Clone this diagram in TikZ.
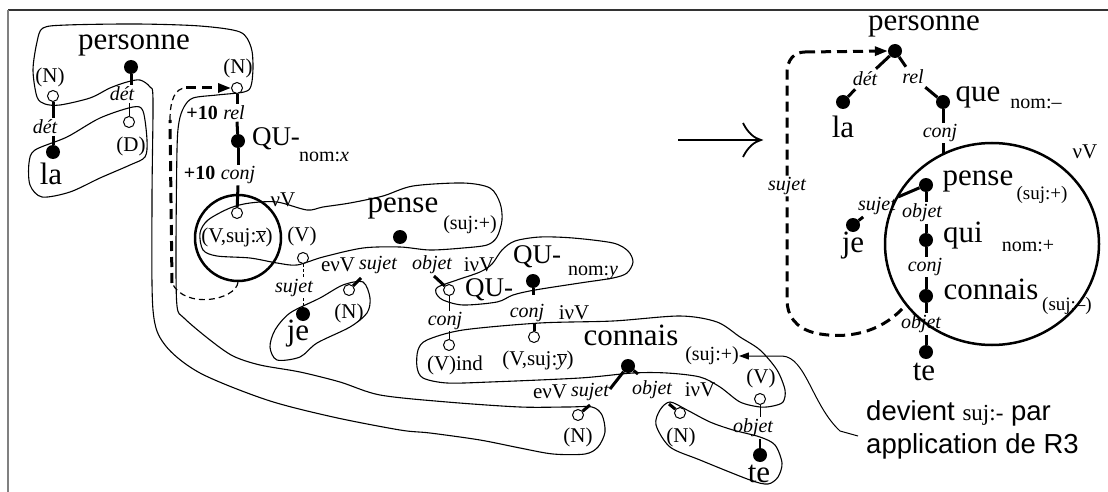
\documentclass[tikz,border=0pt]{standalone}
\usepackage{fontspec}
\setmainfont{Liberation Serif}
\newfontfamily\arialf{Liberation Sans}
\usetikzlibrary{arrows.meta,shapes.geometric,calc}
\tikzset{
 fdot/.style={circle,fill=black,inner sep=0pt,minimum size=14pt},
 odot/.style={circle,draw,fill=white,line width=1pt,inner sep=0pt,minimum size=11pt},
 big/.style={font=\fontsize{31}{34}\selectfont,inner sep=0pt},
 qu/.style={font=\fontsize{27}{30}\selectfont,inner sep=0pt},
 med/.style={font=\fontsize{21}{24}\selectfont,inner sep=1pt},
 lab/.style={font=\fontsize{20}{22}\selectfont\itshape,inner sep=1.5pt},
 bnum/.style={font=\fontsize{20}{22}\selectfont\bfseries,inner sep=1.5pt},
 sub/.style={font=\fontsize{20}{22}\selectfont,inner sep=0pt},
 tk/.style={line width=3pt},
 tn/.style={line width=1pt},
 blob/.style={line width=1.1pt},
 dsh/.style={line width=3pt,dash pattern=on 10pt off 6pt},
 dshthin/.style={line width=1.2pt,dash pattern=on 6pt off 4pt},
 tri/.style={-{Triangle[length=13pt,width=9pt]}},
}
\begin{document}
\begin{tikzpicture}[x=1pt,y=-1pt]
\useasboundingbox (0,0) rectangle (1108,492);
\draw[line width=1.3pt, black!80] (1108,10) -- (8,10);
\draw[line width=1.6pt, black!50] (8,10) -- (8,492);

% ---------- contours (left)
\draw[blob] plot[smooth cycle, tension=0.5] coordinates {(43,28) (67,25) (137,24) (200,26) (240,32) (251,47) (253,67) (251,86) (244,92) (217,95) (193,98) (184,107) (179,122) (177,150) (176,250) (177,306) (184,318) (210,340) (233,356) (260,365) (300,372) (340,382) (380,395) (447,402) (520,407) (567,407) (592,407) (602,415) (605,432) (598,447) (585,454) (553,454) (520,448) (480,440) (430,433) (400,430) (333,417) (267,400) (200,373) (165,345) (153,310) (152,200) (153,100) (150,87) (140,80) (127,82) (110,88) (90,98) (60,105) (45,104) (37,97) (33,70) (37,42)};
\draw[blob] plot[smooth cycle, tension=0.5] coordinates {(35,150) (67,137) (100,118) (133,107) (143,111) (147,140) (145,157) (130,165) (100,178) (70,192) (42,197) (30,185) (29,163)};
\draw[blob] plot[smooth cycle, tension=0.5] coordinates {(208,220) (230,208) (250,203) (277,202) (307,210) (323,207) (350,203) (383,196) (413,186) (463,183) (490,188) (500,203) (502,220) (497,237) (487,245) (463,248) (430,250) (400,247) (363,248) (323,257) (297,265) (277,263) (250,258) (217,256) (203,250) (200,233)};
\draw[blob] plot[smooth cycle, tension=0.5] coordinates {(275,330) (290,313) (320,298) (343,285) (363,282) (370,298) (367,313) (350,327) (317,343) (300,357) (277,360) (270,347)};
\draw[blob] plot[smooth cycle, tension=0.5] coordinates {(438,287) (457,280) (480,272) (492,264) (502,250) (515,241) (540,237) (573,238) (613,243) (628,251) (633,262) (627,273) (613,278) (580,283) (535,290) (513,295) (497,302) (463,305) (443,300) (436,293)};
\draw[blob] plot[smooth cycle, tension=0.5] coordinates {(427,340) (463,330) (540,323) (613,321) (680,316) (717,322) (740,337) (760,350) (777,370) (785,390) (783,402) (773,406) (760,407) (740,402) (720,387) (700,377) (667,373) (633,373) (580,378) (490,382) (447,383) (423,378) (417,367) (418,350)};
\draw[blob] plot[smooth cycle, tension=0.5] coordinates {(656,425) (660,410) (670,402) (687,410) (710,422) (733,430) (760,437) (775,445) (782,463) (778,477) (768,484) (750,480) (700,460) (670,447)};

% ---------- big circle left
\node[circle,draw,line width=2.5pt,minimum size=86pt,inner sep=0pt] (bigC) at (238,238) {};

% ---------- left nodes
\node[fdot] (dPers) at (131,67) {};
\node[odot] (oNL) at (53,96) {};
\node[fdot] (dLa) at (53,152) {};
\node[odot] (oD) at (129,122) {};
\node[odot] (oNR) at (237,88) {};
\node[fdot] (dQU) at (238,141) {};
\node[odot] (oVx) at (237,213) {};
\node[odot] (oV) at (303,258) {};
\node[fdot] (dJe) at (303,314) {};
\node[odot] (oN1) at (349,290) {};
\node[fdot] (dPense) at (400,237) {};
\node[odot] (oQU) at (449,290) {};
\node[fdot] (dQUb) at (533,281) {};
\node[odot] (oVind) at (449,345) {};
\node[odot] (oVy) at (534,337) {};
\node[fdot] (dConn) at (628,366) {};
\node[odot] (oN2) at (578,415) {};
\node[odot] (oN3) at (680,413) {};
\node[odot] (oV2) at (760,399) {};
\node[fdot] (dTe) at (760,455) {};

\node[big] (tPers) at (134,45) {personne};
\node[med] (tNL) at (50,77) {(N)};
\node[lab] (det1) at (45,127) {dét};
\node[big] (tLa) at (51,174) {la};
\node[lab] (det2) at (122,94) {dét};
\node[med] (tD) at (131,146) {(D)};
\node[med] (tNR) at (238,68) {(N)};
\node[lab] (rel1) at (234,113) {rel};
\node[bnum,anchor=base east] (p10a) at ($(rel1.base west)+(-2,0)$) {+10};
\node[qu] (tQU) at (276,139) {QU-};
\node[sub] (nomx) at (324,157) {nom:\textit{x}};
\node[lab] (conj1) at (238,175) {conj};
\node[bnum,anchor=base east] (p10b) at ($(conj1.base west)+(-2,0)$) {+10};
\node[med] (vsx) at (237,237) {(V,suj:$\overline{\mbox{\itshape x}}$)};
\node[med] (nuV1) at (283,200) {νV};
\node[med] (tV1) at (302,236) {(V)};
\node[lab] (suj1) at (294,288) {sujet};
\node[big] (tJe) at (298,334) {je};
\node[med] (evV1) at (338,265) {eνV};
\node[lab] (suj2) at (378,265) {sujet};
\node[med] (tN1) at (349,313) {(N)};
\node[big] (tPense) at (403,208) {pense};
\node[sub] (sujp1) at (470,225) {(suj:+)};
\node[lab] (obj1) at (432,265) {objet};
\node[med] (ivV1) at (479,265) {iνV};
\node[qu] (tQUs) at (489,290) {QU-};
\node[qu] (tQUb) at (537,257) {QU-};
\node[sub] (nomy) at (593,273) {nom:\textit{y}};
\node[lab] (conj2) at (445,321) {conj};
\node[med] (tVind) at (455,365) {(V)ind};
\node[lab] (conj3) at (527,313) {conj};
\node[med] (ivV2) at (574,313) {iνV};
\node[med] (vsy) at (538,360) {(V,suj:$\overline{\mbox{\itshape y}}$)};
\node[big] (tConn) at (631,335) {connais};
\node[med] (evV2) at (550,392) {eνV};
\node[lab] (suj3) at (590,392) {sujet};
\node[lab] (obj2) at (652,390) {objet};
\node[med] (ivV3) at (700,390) {iνV};
\node[med] (tN2) at (578,437) {(N)};
\node[med] (tN3) at (681,437) {(N)};
\node[sub] (sujp2) at (712,356) {(suj:+)};
\node[med] (tV2) at (761,378) {(V)};
\node[lab] (obj4) at (753,428) {objet};
\node[big] (tTe) at (759,474) {te};
\node[anchor=west,align=left,font=\arialf\fontsize{27.5}{33}\selectfont,inner sep=0pt] (dev) at (866,430) {devient {\rmfamily\fontsize{23}{26}\selectfont suj:-} par\\application de R3};

% ---------- left connectors
\draw[tk] (oNL) -- (oNL |- det1.north);
\draw[tk] (oNL |- det1.south) -- (dLa);
\draw[tk] (dPers) -- (dPers |- det2.north);
\draw[tn] (oD |- det2.south) -- (oD);
\draw[tk] (oNR) -- (oNR |- rel1.north);
\draw[tk] (oNR |- rel1.south) -- (dQU);
\draw[tk] (dQU) -- (dQU |- conj1.north);
\draw[tk] (dQU |- conj1.south) -- (oVx);
\draw[tn,dash pattern=on 3pt off 2pt] (oV) -- (oV |- suj1.north);
\draw[tn,dash pattern=on 3pt off 2pt] (oV |- suj1.south) -- (dJe);
\coordinate (s1) at (361,278);
\draw[tk] (oN1) -- (s1);
\coordinate (s2) at (434,276);
\draw[tk] (oQU) -- (s2);
\coordinate (s3) at (533,295);
\draw[tk] (dQUb) -- (s3);
\draw[tn] (oQU) -- (oQU |- conj2.north);
\draw[tn] (oQU |- conj2.south) -- (oVind);
\draw[tk] (oVy) -- (oVy |- conj3.south);
\coordinate (s4) at (610,389);
\draw[tk] (dConn) -- (s4);
\coordinate (s5) at (638,374);
\draw[tk] (dConn) -- (s5);
\coordinate (s6) at (590,405);
\draw[tk] (oN2) -- (s6);
\coordinate (s7) at (669,404);
\draw[tk] (oN3) -- (s7);
\draw[tn] (oV2) -- (oV2 |- obj4.north);
\draw[line width=1.8pt] (oV2 |- obj4.south) -- (dTe);

% dashed left
\coordinate (l1) at (172,283);
\coordinate (l2) at (170,120);
\coordinate (l3) at (186,88);
\draw[dshthin] (bigC.south) .. controls (236,300) and (185,310) .. (l1);
\draw[dsh] (l1) -- (l2);
\draw[dshthin] (l2) .. controls (170,100) and (175,88) .. (l3);
\draw[dsh,tri] (l3) -- (oNR.west);

% devient arrow
\coordinate (devS) at (858,436);
\draw[tn,-{Triangle[length=10pt,width=7pt]}] (devS) -- (840,431) .. controls (812,405) and (806,357) .. (782,356) -- (sujp2.east);

% ---------- big arrow
\coordinate (ar1) at (678,140);
\coordinate (ar2) at (761,140);
\draw[line width=1.8pt] (ar1) -- (ar2);
\draw[line width=1.8pt] (743,123) .. controls (748,133) and (754,138) .. (ar2) .. controls (754,142) and (748,147) .. (743,157);

% ---------- right panel
\node[ellipse,draw,line width=2.5pt,minimum width=214pt,minimum height=202pt,inner sep=0pt] (rEll) at (992,244) {};
\node[fdot] (rPers) at (895,51) {};
\node[fdot] (rLa) at (843,102) {};
\node[fdot] (rQue) at (943,102) {};
\node[fdot] (rPense) at (926,185) {};
\node[fdot] (rJe) at (853,225) {};
\node[fdot] (rQui) at (926,240) {};
\node[fdot] (rConn) at (926,296) {};
\node[fdot] (rTe) at (926,352) {};

\node[big] (rtPers) at (924,26) {personne};
\node[lab,inner sep=3pt] (rDet) at (865,79) {dét};
\node[lab,inner sep=3pt] (rRel) at (913,77) {rel};
\node[big] (rtLa) at (843,127) {la};
\node[big] (rtQue) at (978,97) {que};
\node[sub] (rNomm) at (1036,104) {nom:–};
\node[lab] (rConj) at (940,133) {conj};
\node[med] (rnuV) at (1085,152) {νV};
\node[big] (rtPense) at (978,181) {pense};
\node[sub,font=\fontsize{19}{22}\selectfont] (rSujp) at (1042,195) {(suj:+)};
\node[lab,inner sep=2pt] (rSuj) at (877,206) {sujet};
\node[big] (rtJe) at (853,246) {je};
\node[lab] (rObj1) at (922,213) {objet};
\node[big] (rtQui) at (963,236) {qui};
\node[sub] (rNomp) at (1028,246) {nom:+};
\node[lab] (rConj2) at (925,267) {conj};
\node[big] (rtConn) at (991,289) {connais};
\node[sub,font=\fontsize{19}{22}\selectfont] (rSujm) at (1067,306) {(suj:–)};
\node[lab] (rObj2) at (921,324) {objet};
\node[big] (rtTe) at (924,372) {te};
\node[lab] (rSujD) at (787,186) {sujet};

\draw[tk] (rPers) -- (rDet);
\draw[tk] (rDet) -- (rLa);
\draw[tk] (rPers) -- (rRel);
\draw[tk] (rRel) -- (rQue);
\coordinate (rCtop) at (943,154);
\draw[tk] (rQue) -- (rQue |- rConj.north);
\draw[tk] (rQue |- rConj.south) -- (rCtop);
\draw[tk] (rPense) -- (rSuj);
\draw[tk] (rSuj) -- (rJe);
\draw[tk] (rPense) -- (rPense |- rObj1.north);
\draw[tk] (rPense |- rObj1.south) -- (rQui);
\draw[tk] (rQui) -- (rQui |- rConj2.north);
\draw[tk] (rQui |- rConj2.south) -- (rConn);
\draw[tk] (rConn) -- (rConn |- rObj2.north);
\draw[tk] (rConn |- rObj2.south) -- (rTe);

\coordinate (r1) at (902,309);
\coordinate (r2) at (787,300);
\coordinate (r3) at (787,73);
\coordinate (r4) at (805,52);
\draw[dsh] (r1) .. controls (880,332) and (848,340) .. (815,333) .. controls (795,328) and (787,315) .. (r2) -- (rSujD.south);
\draw[dsh] (rSujD.north) -- (r3) .. controls (787,60) and (794,52) .. (r4);
\draw[dsh,tri] (r4) -- (rPers.west);
\end{tikzpicture}
\end{document}
